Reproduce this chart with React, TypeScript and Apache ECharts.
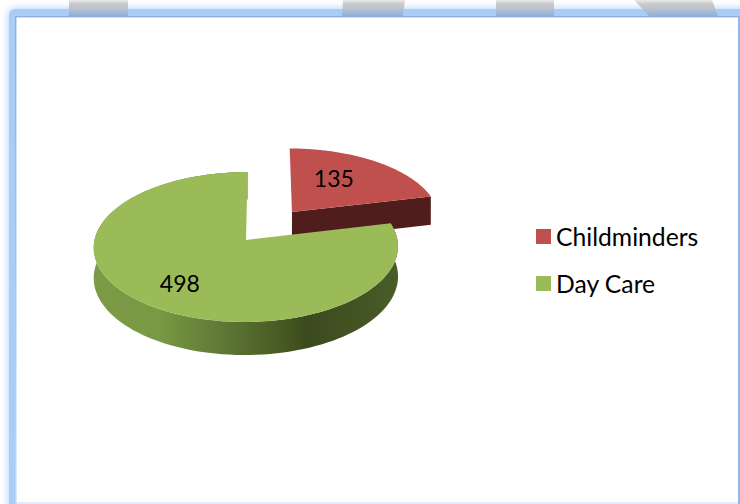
import React, { useEffect, useRef } from "react";
import * as echarts from "echarts";

const categories = ["Childminders", "Day Care"];
const values = [135, 498];

const colors = ["#C0504D", "#9BBB59"];
const explode = [0.5, 0];
const labelRadius = [0.6, 0.685];
const labelTurn = [-0.13, -0.03];

const CX = 246, CY = 240, A = 151.5, B = 74.3, P = 0.0933, DEPTH = 30, SKEW = 1.5;
const total = values.reduce((a, b) => a + b, 0);

function project(X: number, Y: number, down = 0): [number, number] {
  const w = 1 + P * Y;
  return [CX + SKEW * Y + (A * X) / w, CY - (B * Y) / w + down / w];
}

function renderSlice(index: number) {
  const before = values.slice(0, index).reduce((a, b) => a + b, 0);
  const start = (before / total) * Math.PI * 2;
  const end = ((before + values[index]) / total) * Math.PI * 2;
  const mid = (start + end) / 2;
  const ox = explode[index] * Math.sin(mid);
  const oy = explode[index] * Math.cos(mid);
  const pt = (r: number, t: number, d = 0) => project(ox + r * Math.sin(t), oy + r * Math.cos(t), d);
  const steps = 120;
  const arc = (from: number, to: number, d: number) => {
    const out: [number, number][] = [];
    for (let i = 0; i <= steps; i++) out.push(pt(1, from + ((to - from) * i) / steps, d));
    return out;
  };

  const isRed = index === 0;
  const top = [pt(0, 0), ...arc(start, end, 0)];
  const lp = pt(labelRadius[index], mid + labelTurn[index]);
  const children: any[] = [];

  if (isRed) {
    const face = [pt(0, 0), pt(1, end), pt(1, end, DEPTH), pt(0, 0, DEPTH)];
    children.push({ type: "polygon", shape: { points: face }, style: { fill: "#4F1D1B" } });
  } else {
    const wall = [...arc(start, end, 0), ...arc(start, end, DEPTH).reverse()];
    const wallFill = new echarts.graphic.LinearGradient(93, 0, 398, 0, [
      { offset: 0, color: "#7D9A46" },
      { offset: 0.21, color: "#7A9944" },
      { offset: 0.43, color: "#5F7735" },
      { offset: 0.65, color: "#43551F" },
      { offset: 0.7, color: "#3B4A1E" },
      { offset: 1, color: "#4A5C28" },
    ], true);
    children.push({ type: "polygon", shape: { points: wall }, style: { fill: wallFill } });
  }
  children.push({ type: "polygon", shape: { points: top }, style: { fill: colors[index] } });
  children.push({
    type: "text",
    x: lp[0],
    y: lp[1],
    style: {
      text: String(values[index]),
      fill: "#000",
      font: '23px Lato, "Noto Sans", sans-serif',
      align: "center",
      verticalAlign: "middle",
    },
  });
  return { type: "group", children };
}

const tab = (points: number[][]) => ({
  type: "polygon",
  z: 1,
  shape: { points },
  style: {
    fill: new echarts.graphic.LinearGradient(0, 0, 0, 1, [
      { offset: 0, color: "#EAEAEA" },
      { offset: 0.25, color: "#C9C9C9" },
      { offset: 0.5, color: "#BCC4CE" },
      { offset: 1, color: "#8EAFDB" },
    ]),
  },
});

export default function App() {
  const ref = useRef<HTMLDivElement>(null);
  useEffect(() => {
    document.body.style.margin = "0";
    const chart = echarts.init(ref.current!, null, { renderer: "svg" });
    chart.setOption({
      animation: false,
      backgroundColor: "#FFFFFF",
      legend: {
        orient: "vertical",
        left: 531,
        top: 219,
        z: 10,
        itemWidth: 15,
        itemHeight: 15,
        itemGap: 22,
        icon: "rect",
        data: categories,
        selectedMode: false,
        textStyle: { fontFamily: 'Lato, "Noto Sans", sans-serif', fontSize: 24.7, color: "#000" },
      },
      graphic: [
        {
          type: "rect",
          z: 0,
          shape: { x: 9, y: 9, width: 760, height: 520, r: 6 },
          style: { fill: "#A9CDF6", shadowBlur: 9, shadowColor: "#A9CDF6" },
        },
        tab([[69, 0], [128, 0], [128, 16], [69, 16]]),
        tab([[343, 0], [405, 0], [403, 16], [342, 16]]),
        tab([[496, 0], [554, 0], [554, 16], [496, 16]]),
        tab([[634, 0], [712, 0], [718, 16], [649, 16]]),
        { type: "rect", z: 2, shape: { x: 16, y: 502, width: 724, height: 2 }, style: { fill: "#E4ECFA" } },
        { type: "rect", z: 2, shape: { x: 738, y: 16, width: 2, height: 488 }, style: { fill: "#9AB5E5" } },
        { type: "rect", z: 2, shape: { x: 15, y: 16, width: 723, height: 1.5 }, style: { fill: "#8FABDF" } },
        {
          type: "rect",
          z: 2,
          shape: { x: 15, y: 16, width: 1.5, height: 488 },
          style: {
            fill: new echarts.graphic.LinearGradient(0, 0, 0, 1, [
              { offset: 0, color: "#8FABDF" },
              { offset: 1, color: "#C3D6F4" },
            ]),
          },
        },
        { type: "rect", z: 2, shape: { x: 16.5, y: 17.5, width: 721.5, height: 484.5 }, style: { fill: "#FFFFFF" } },
      ],
      series: categories.map((name, i) => ({
        type: "custom",
        name,
        coordinateSystem: "none",
        color: colors[i],
        itemStyle: { color: colors[i] },
        z: 3 + i,
        silent: true,
        data: [[values[i]]],
        renderItem: () => renderSlice(i),
      })),
    });
    return () => chart.dispose();
  }, []);
  return <div ref={ref} style={{ position: "absolute", left: 0, top: 0, width: 740, height: 504 }} />;
}
